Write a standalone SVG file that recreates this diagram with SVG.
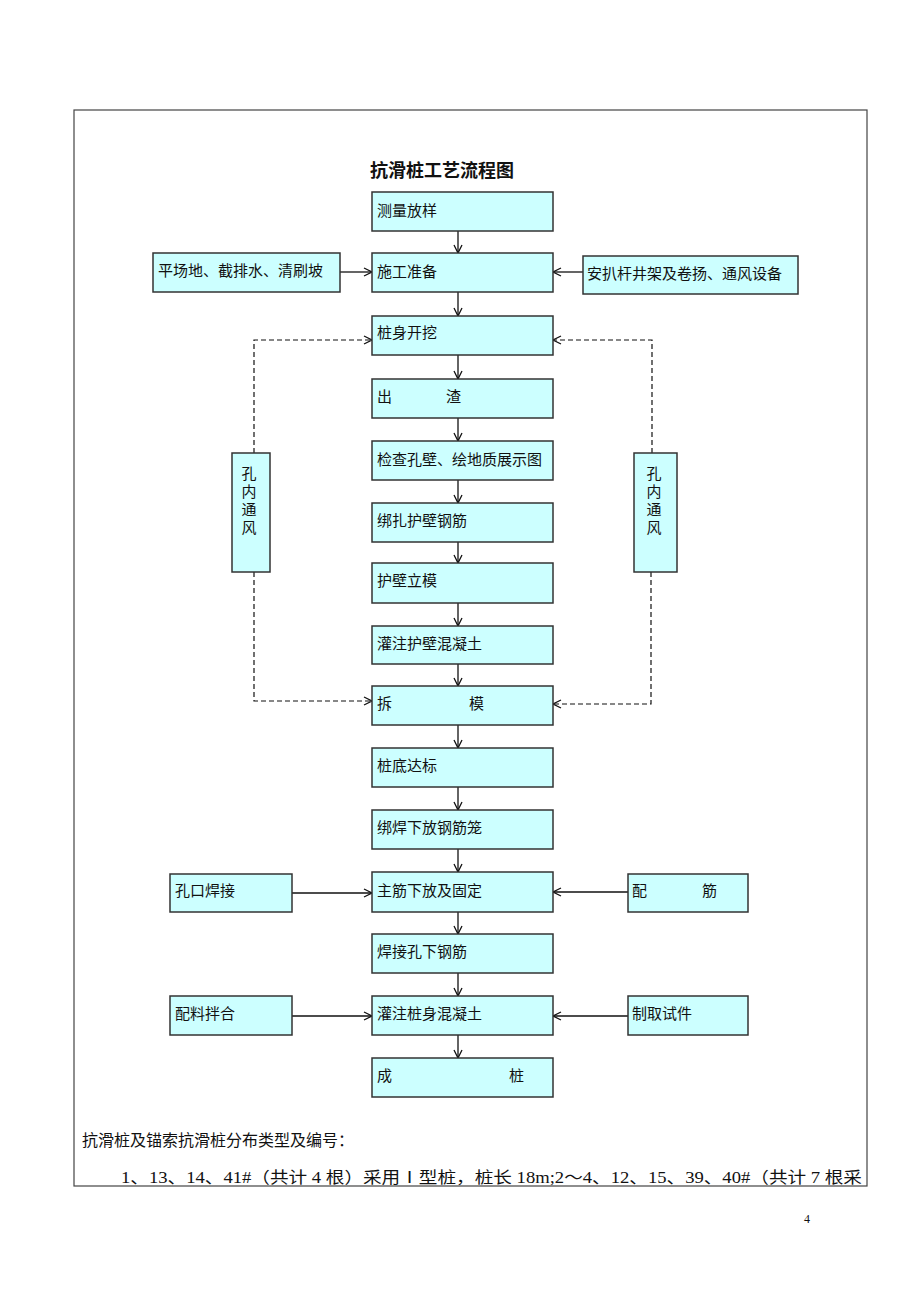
<svg xmlns="http://www.w3.org/2000/svg" width="920" height="1302" viewBox="0 0 920 1302">
<style>
.bg{fill:#fff}
.frame{fill:none;stroke:#444;stroke-width:1.2}
.box{fill:#ccffff;stroke:#333;stroke-width:1.5}
.t{font-family:"Liberation Serif","Noto Sans CJK SC",serif;font-size:15px;fill:#111}
.title{font-family:"Liberation Sans","Noto Sans CJK SC",sans-serif;font-size:18px;font-weight:bold;fill:#111}
.body{font-family:"Liberation Serif","Noto Sans CJK SC",serif;font-size:16px;fill:#111}
.c{fill:none;stroke:#111;stroke-width:1.3}
.d{fill:none;stroke:#111;stroke-width:1.2;stroke-dasharray:5,3}
</style>
<defs>
<marker id="ar" markerWidth="10" markerHeight="10" refX="9" refY="5" orient="auto" markerUnits="userSpaceOnUse">
<path d="M1,1 L9,5 L1,9" fill="none" stroke="#111" stroke-width="1.3"/>
</marker>
</defs>
<rect class="bg" x="0" y="0" width="920" height="1302"/>
<rect class="frame" x="74" y="110" width="793" height="1076"/>
<text class="title" x="370" y="177">抗滑桩工艺流程图</text>

<g id="connectors">
<line class="c" x1="458" y1="231" x2="458" y2="253" marker-end="url(#ar)"/>
<line class="c" x1="458" y1="292" x2="458" y2="316" marker-end="url(#ar)"/>
<line class="c" x1="458" y1="355" x2="458" y2="379" marker-end="url(#ar)"/>
<line class="c" x1="458" y1="418" x2="458" y2="441" marker-end="url(#ar)"/>
<line class="c" x1="458" y1="480" x2="458" y2="503" marker-end="url(#ar)"/>
<line class="c" x1="458" y1="542" x2="458" y2="563" marker-end="url(#ar)"/>
<line class="c" x1="458" y1="603" x2="458" y2="626" marker-end="url(#ar)"/>
<line class="c" x1="458" y1="664" x2="458" y2="686" marker-end="url(#ar)"/>
<line class="c" x1="458" y1="725" x2="458" y2="748" marker-end="url(#ar)"/>
<line class="c" x1="458" y1="787" x2="458" y2="810" marker-end="url(#ar)"/>
<line class="c" x1="458" y1="849" x2="458" y2="872" marker-end="url(#ar)"/>
<line class="c" x1="458" y1="912" x2="458" y2="934" marker-end="url(#ar)"/>
<line class="c" x1="458" y1="973" x2="458" y2="996" marker-end="url(#ar)"/>
<line class="c" x1="458" y1="1035" x2="458" y2="1058" marker-end="url(#ar)"/>
<line class="c" x1="340" y1="272" x2="372" y2="272" marker-end="url(#ar)"/>
<line class="c" x1="583" y1="272" x2="553" y2="272" marker-end="url(#ar)"/>
<line class="c" x1="292" y1="893" x2="372" y2="893" marker-end="url(#ar)"/>
<line class="c" x1="628" y1="892" x2="553" y2="892" marker-end="url(#ar)"/>
<line class="c" x1="292" y1="1016" x2="372" y2="1016" marker-end="url(#ar)"/>
<line class="c" x1="628" y1="1016" x2="553" y2="1016" marker-end="url(#ar)"/>
<polyline class="d" points="254,453 254,340 372,340" marker-end="url(#ar)"/>
<polyline class="d" points="254,572 254,701 372,701" marker-end="url(#ar)"/>
<polyline class="d" points="652,453 652,340 553,340" marker-end="url(#ar)"/>
<polyline class="d" points="651,572 651,704 553,704" marker-end="url(#ar)"/>
</g>

<g id="n1"><rect class="box" x="372" y="192" width="181" height="39"/><text class="t" x="377" y="216">测量放样</text></g>
<g id="n2"><rect class="box" x="372" y="253" width="181" height="39"/><text class="t" x="377" y="277">施工准备</text></g>
<g id="n3"><rect class="box" x="372" y="316" width="181" height="39"/><text class="t" x="377" y="338">桩身开挖</text></g>
<g id="n4"><rect class="box" x="372" y="379" width="181" height="39"/><text class="t" x="377" y="402">出</text><text class="t" x="446" y="402">渣</text></g>
<g id="n5"><rect class="box" x="372" y="441" width="181" height="39"/><text class="t" x="377" y="465">检查孔壁、绘地质展示图</text></g>
<g id="n6"><rect class="box" x="372" y="503" width="181" height="39"/><text class="t" x="377" y="526">绑扎护壁钢筋</text></g>
<g id="n7"><rect class="box" x="372" y="563" width="181" height="40"/><text class="t" x="377" y="586">护壁立模</text></g>
<g id="n8"><rect class="box" x="372" y="626" width="181" height="38"/><text class="t" x="377" y="649">灌注护壁混凝土</text></g>
<g id="n9"><rect class="box" x="372" y="686" width="181" height="39"/><text class="t" x="377" y="709">拆</text><text class="t" x="469" y="709">模</text></g>
<g id="n10"><rect class="box" x="372" y="748" width="181" height="39"/><text class="t" x="377" y="771">桩底达标</text></g>
<g id="n11"><rect class="box" x="372" y="810" width="181" height="39"/><text class="t" x="377" y="833">绑焊下放钢筋笼</text></g>
<g id="n12"><rect class="box" x="372" y="872" width="181" height="40"/><text class="t" x="377" y="896">主筋下放及固定</text></g>
<g id="n13"><rect class="box" x="372" y="934" width="181" height="39"/><text class="t" x="377" y="957">焊接孔下钢筋</text></g>
<g id="n14"><rect class="box" x="372" y="996" width="181" height="39"/><text class="t" x="377" y="1019">灌注桩身混凝土</text></g>
<g id="n15"><rect class="box" x="372" y="1058" width="181" height="39"/><text class="t" x="377" y="1081">成</text><text class="t" x="509" y="1081">桩</text></g>

<g id="s1"><rect class="box" x="153" y="253" width="187" height="39"/><text class="t" x="158" y="276">平场地、截排水、清刷坡</text></g>
<g id="s2"><rect class="box" x="583" y="256" width="215" height="38"/><text class="t" x="587" y="279">安扒杆井架及卷扬、通风设备</text></g>
<g id="s3"><rect class="box" x="232" y="453" width="38" height="119"/>
<text class="t" x="241.5" y="479">孔</text><text class="t" x="241.5" y="497">内</text><text class="t" x="241.5" y="515">通</text><text class="t" x="241.5" y="533">风</text></g>
<g id="s4"><rect class="box" x="634" y="453" width="43" height="119"/>
<text class="t" x="646.5" y="479">孔</text><text class="t" x="646.5" y="497">内</text><text class="t" x="646.5" y="515">通</text><text class="t" x="646.5" y="533">风</text></g>
<g id="s5"><rect class="box" x="170" y="874" width="122" height="38"/><text class="t" x="175" y="896">孔口焊接</text></g>
<g id="s6"><rect class="box" x="628" y="874" width="120" height="38"/><text class="t" x="632" y="896">配</text><text class="t" x="702" y="896">筋</text></g>
<g id="s7"><rect class="box" x="170" y="996" width="122" height="39"/><text class="t" x="175" y="1019">配料拌合</text></g>
<g id="s8"><rect class="box" x="628" y="996" width="120" height="39"/><text class="t" x="632" y="1019">制取试件</text></g>

<text class="body" x="82" y="1146">抗滑桩及锚索抗滑桩分布类型及编号：</text>
<text class="body" x="121" y="1183" textLength="741" lengthAdjust="spacingAndGlyphs">1、13、14、41#（共计 4 根）采用Ⅰ型桩，桩长 18m;2～4、12、15、39、40#（共计 7 根采</text>
<text x="804" y="1223" style="font-family:'Liberation Serif',serif;font-size:12px;fill:#111">4</text>
</svg>
